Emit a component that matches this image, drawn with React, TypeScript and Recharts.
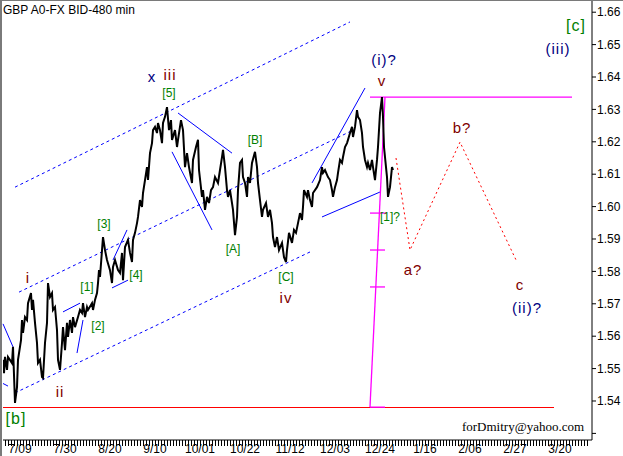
import React from 'react';
import {
  ComposedChart, Line, XAxis, YAxis, ReferenceLine, ReferenceDot,
} from 'recharts';

// 480-min bars, bar 0 = 7/09
const priceBar = [
  -17, -16, -15, -13, -12, -8, -7, -5, -3, -2, 1, 2, 3, 5, 7, 8, 11, 12, 13, 15, 17, 18, 20, 22, 23,
  25, 27, 28, 30, 32, 33, 35, 37, 38, 40, 42, 43, 45, 47, 48, 50, 52, 53, 55, 58, 60, 62, 63, 65, 67,
  68, 72, 73, 75, 77, 78, 79, 80, 83, 85, 87, 90, 92, 93, 95, 98, 100, 102, 103, 105, 108, 110, 112,
  113, 115, 117, 118, 120, 122, 123, 125, 127, 128, 130, 132, 133, 135, 137, 138, 140, 142, 143, 145,
  147, 149, 151, 152, 155, 157, 158, 161, 163, 165, 167, 169, 172, 173, 176, 178, 179, 182, 183, 185,
  187, 189, 191, 193, 195, 198, 200, 202, 203, 205, 207, 208, 210, 212, 213, 215, 217, 218, 220, 222,
  223, 225, 227, 228, 230, 232, 235, 237, 238, 240, 242, 243, 246, 248, 250, 252, 253, 255, 257, 259,
  262, 264, 266, 267, 269, 272, 274, 276, 278, 280, 282, 283, 284, 287, 288, 290, 292, 293, 297, 300,
  302, 303, 305, 308, 310, 312, 313, 315, 317, 318, 320, 322, 323, 325, 327, 328, 330, 332, 333, 335,
  337, 338, 340, 342, 343, 345, 347, 348, 350, 352, 353, 355, 357, 358, 360, 362, 363, 364, 366, 367,
  368, 370, 371, 372, 373,
];
const priceClose = [
  1.5527, 1.5486, 1.5536, 1.5496, 1.5536, 1.5517, 1.5567, 1.5394, 1.5443, 1.5527, 1.5588, 1.5650, 1.5610,
  1.5659, 1.5650, 1.5702, 1.5733, 1.5681, 1.5712, 1.5641, 1.5579, 1.5517, 1.5527, 1.5474, 1.5471,
  1.5579, 1.5641, 1.5764, 1.5721, 1.5733, 1.5681, 1.5690, 1.5619, 1.5527, 1.5496, 1.5579, 1.5628, 1.5557,
  1.5641, 1.5598, 1.5650, 1.5610, 1.5659, 1.5628, 1.5659, 1.5681, 1.5672, 1.5702, 1.5659, 1.5690,
  1.5681, 1.5702, 1.5681, 1.5712, 1.5733, 1.5764, 1.5804, 1.5783, 1.5906, 1.5866, 1.5835, 1.5804, 1.5764,
  1.5814, 1.5835, 1.5804, 1.5795, 1.5857, 1.5773, 1.5875, 1.5897, 1.5857, 1.5829,
  1.5897, 1.5919, 1.5949, 1.5968, 1.6020, 1.5999, 1.6042, 1.6082, 1.6122, 1.6082, 1.6165, 1.6196, 1.6236,
  1.6246, 1.6227, 1.6258, 1.6236, 1.6196, 1.6258, 1.6277,
  1.6307, 1.6236, 1.6267, 1.6206, 1.6236, 1.6184, 1.6206, 1.6267, 1.6236, 1.6122, 1.6165, 1.6122, 1.6073,
  1.6144, 1.6184, 1.6206, 1.6113, 1.6030, 1.6051, 1.5990,
  1.6030, 1.6011, 1.6051, 1.6060, 1.6091, 1.6073, 1.6113, 1.6153, 1.6175, 1.6122, 1.6051, 1.6030, 1.6051,
  1.6011, 1.5990, 1.5912, 1.5968, 1.6051, 1.6135, 1.6144,
  1.6091, 1.6073, 1.6030, 1.6091, 1.6073, 1.6135, 1.6169, 1.6122, 1.6073, 1.6020, 1.5968, 1.5990, 1.6011,
  1.5968, 1.5990, 1.5949, 1.5906, 1.5875, 1.5906, 1.5866,
  1.5888, 1.5844, 1.5829, 1.5866, 1.5919, 1.5888, 1.5928, 1.5919, 1.5949, 1.5980, 1.5959, 1.5999, 1.6051,
  1.6030, 1.6051, 1.6020, 1.5999, 1.6042, 1.6060, 1.6082,
  1.6122, 1.6104, 1.6113, 1.6091, 1.6082, 1.6051, 1.6030, 1.6060, 1.6082, 1.6104, 1.6144, 1.6135, 1.6153,
  1.6184, 1.6196, 1.6206, 1.6227, 1.6246, 1.6215, 1.6246,
  1.6298, 1.6277, 1.6267, 1.6227, 1.6184, 1.6144, 1.6122, 1.6135, 1.6113, 1.6144, 1.6122, 1.6082, 1.6144,
  1.6184, 1.6289, 1.6338, 1.6277, 1.6184, 1.6122, 1.6091,
  1.6030, 1.6060, 1.6091, 1.6122, 1.6113,
];

// projected a-b-c path
const forecastBar = [376, 390, 440, 497];
const forecastValue = [1.6150, 1.5866, 1.6199, 1.5829];

const dateLabels = ['7/09', '7/30', '8/20', '9/10', '10/01', '10/22', '11/12', '12/03', '12/24', '1/16', '2/06', '2/27', '3/20'];
const priceTicks = [1.53, 1.54, 1.55, 1.56, 1.57, 1.58, 1.59, 1.6, 1.61, 1.62, 1.63, 1.64, 1.65, 1.66];

// [bar1, price1, bar2, price2]
const channelLines = [
  [-5, 1.6060, 330, 1.6570],
  [-1, 1.5736, 333, 1.6236],
  [-5, 1.5425, 290, 1.5860],
];
const trendLines = [
  [-17, 1.5638, -7, 1.5567],
  [-17, 1.5454, -12, 1.5446],
  [43, 1.5675, 60, 1.5702],
  [57, 1.5548, 63, 1.5650],
  [93, 1.5835, 107, 1.5928],
  [92, 1.5749, 108, 1.5773],
  [158, 1.6289, 212, 1.6165],
  [152, 1.6169, 192, 1.5928],
  [292, 1.6073, 345, 1.6366],
  [302, 1.5968, 360, 1.6045],
];
const fiboLines = [
  [350, 1.6338, 552, 1.6338],
  [365, 1.6338, 350, 1.5381],
  [350, 1.5980, 367, 1.5980],
  [350, 1.5866, 365, 1.5866],
  [350, 1.5752, 365, 1.5752],
  [350, 1.5381, 365, 1.5381],
];
const baseLine = [-17, 1.5381, 534, 1.5381];

const minorLabels = [
  ['i', 8, 1.5780], ['ii', 40, 1.5428], ['iii', 150, 1.6406], ['iv', 266, 1.5718], ['v', 362, 1.6388],
  ['a?', 393, 1.5804], ['b?', 442, 1.6243], ['c', 500, 1.5758],
];
const intermLabels = [
  ['x', 132, 1.6400], ['(i)?', 364, 1.6452], ['(iii)', 538, 1.6486], ['(ii)?', 507, 1.5687],
];
const subLabels = [
  ['[1]', 67, 1.5752], ['[2]', 78, 1.5631], ['[3]', 84, 1.5946], ['[4]', 116, 1.5789], ['[5]', 149, 1.6351],
  ['[A]', 213, 1.5869], ['[B]', 235, 1.6206], ['[C]', 266, 1.5783], ['[1]?', 370, 1.5968],
];
const primaryLabels = [['[b]', -4, 1.5348], ['[c]', 556, 1.6560]];

const priceData = priceBar.map((b, i) => ({ b, p: priceClose[i] }));
const forecastData = forecastBar.map((b, i) => ({ b, p: forecastValue[i] }));

const dayTicks: number[] = [];
for (let b = -15; b <= 567; b += 3) dayTicks.push(b);

// daily tick marks, date label every 15 trading days
const XTick = (props: any) => {
  const { x, y, payload } = props;
  const v = payload.value;
  const lbl = v % 45 === 0 && v >= 0 ? dateLabels[v / 45] : null;
  const top = y - 6;
  return (
    <g>
      <line x1={x} y1={top} x2={x} y2={top + 6} stroke="#000" shapeRendering="crispEdges" />
      {lbl && (
        <text x={x} y={top + 13} textAnchor="middle" fontSize={12} fill="#000">{lbl}</text>
      )}
    </g>
  );
};

const seg = (s: number[]) => [{ x: s[0], y: s[1] }, { x: s[2], y: s[3] }];

const textDots = (list: any[], color: string, size: number, spacing = 0) =>
  list.map(([t, b, p]) => (
    <ReferenceDot
      key={t + b}
      x={b}
      y={p}
      r={0}
      fill="none"
      stroke="none"
      label={{ value: t, position: 'center', fill: color, fontSize: size, letterSpacing: spacing }}
    />
  ));

export default function App() {
  return (
    <div style={{
      position: 'absolute', left: 0, top: 0, width: 623, height: 456, background: '#fff',
      overflow: 'hidden', fontFamily: '"Liberation Sans", Arial, sans-serif',
    }}>
      <div style={{ position: 'absolute', left: 0, top: 0, width: 623, height: 1, background: '#7a7a7a' }} />
      <div style={{ position: 'absolute', left: 0, top: 0, width: 2, height: 456, background: '#7a7a7a' }} />
      <div style={{ position: 'absolute', left: 3, top: 3, fontSize: 12, color: '#000', lineHeight: '14px' }}>
        GBP A0-FX BID-480 min
      </div>
      <ComposedChart width={623} height={456} margin={{ top: 1, right: 0, bottom: 0, left: 3 }}>
        <XAxis
          type="number"
          dataKey="b"
          domain={[-17, 572]}
          allowDataOverflow
          ticks={dayTicks}
          interval={0}
          height={16}
          tickSize={5}
          tickMargin={1}
          tickLine={false}
          axisLine={{ stroke: '#000' }}
          tick={<XTick />}
        />
        <YAxis
          orientation="right"
          type="number"
          domain={[1.52796, 1.66346]}
          allowDataOverflow
          ticks={priceTicks}
          interval={0}
          width={31}
          tickSize={4}
          tickMargin={1}
          tickLine={{ stroke: '#000' }}
          axisLine={{ stroke: '#000' }}
          tick={{ fill: '#000', fontSize: 12 }}
          tickFormatter={(v: number) => (v < 1.535 ? '' : v.toFixed(2))}
        />
        {channelLines.map((s, i) => (
          <ReferenceLine key={'ch' + i} segment={seg(s)} stroke="#0000ff" strokeDasharray="3 3" />
        ))}
        {trendLines.map((s, i) => (
          <ReferenceLine key={'tr' + i} segment={seg(s)} stroke="#0000ff" />
        ))}
        <ReferenceLine segment={seg(baseLine)} stroke="#ff0000" shapeRendering="crispEdges" />
        {fiboLines.map((s, i) => (
          <ReferenceLine key={'fb' + i} segment={seg(s)} stroke="#ff00ff" strokeWidth={1.3} />
        ))}
        <Line
          data={priceData}
          dataKey="p"
          type="linear"
          stroke="#000"
          strokeWidth={2}
          dot={false}
          isAnimationActive={false}
        />
        <Line
          data={forecastData}
          dataKey="p"
          type="linear"
          stroke="#ff0000"
          strokeWidth={1}
          strokeDasharray="2 3"
          dot={false}
          isAnimationActive={false}
        />
        {textDots(minorLabels, '#800000', 15, 1)}
        {textDots(intermLabels, '#000080', 15, 1)}
        {textDots(subLabels, '#008000', 12)}
        {textDots(primaryLabels, '#008000', 16, 1)}
        <ReferenceDot
          x={503}
          y={1.5323}
          r={0}
          fill="none"
          stroke="none"
          label={{ value: 'forDmitry@yahoo.com', position: 'center', fill: '#000', fontSize: 13, fontFamily: '"Liberation Serif", "Times New Roman", serif' }}
        />
      </ComposedChart>
    </div>
  );
}
